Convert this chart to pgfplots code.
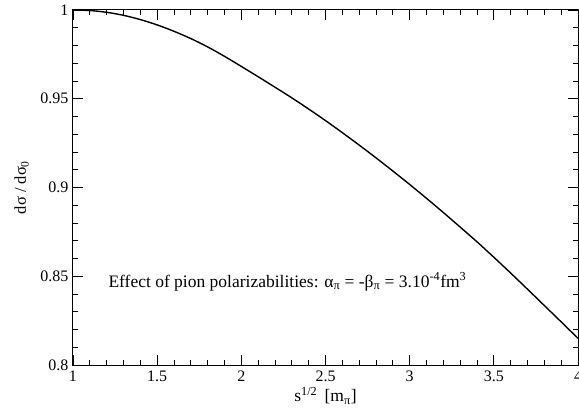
\documentclass[border=0pt]{standalone}
\usepackage{fontspec}
\setmainfont{Liberation Serif}
\usepackage{pgfplots}
\pgfplotsset{compat=1.18}
\pgfplotstableread{
x y
1.0 1.0000
1.1 0.9997
1.2 0.9987
1.3 0.9970
1.4 0.9946
1.5 0.9916
1.6 0.9880
1.7 0.9839
1.8 0.9792
1.9 0.9739
2.0 0.9682
2.1 0.9624
2.2 0.9565
2.3 0.9505
2.4 0.9442
2.5 0.9377
2.6 0.9309
2.7 0.9239
2.8 0.9167
2.9 0.9093
3.0 0.9017
3.1 0.8939
3.2 0.8859
3.3 0.8777
3.4 0.8694
3.5 0.8607
3.6 0.8518
3.7 0.8427
3.8 0.8335
3.9 0.8243
4.0 0.8150
}\curve
\begin{document}
\begin{tikzpicture}
\begin{axis}[
  scale only axis, width=505bp, height=355bp,
  xmin=1, xmax=4, ymin=0.8, ymax=1,
  xtick={1,1.5,2,2.5,3,3.5,4},
  ytick={0.8,0.85,0.9,0.95,1},
  minor x tick num=4, minor y tick num=4,
  tick align=inside,
  major tick length=10bp, minor tick length=5bp,
  tick style={black, line width=0.8bp},
  axis line style={line width=1bp},
  /pgf/number format/assume math mode=true,
  ticklabel style={font=\fontsize{16bp}{19bp}\selectfont},
  xticklabel style={yshift=-2bp},
  yticklabel style={xshift=-1bp},
  xlabel={s\textsuperscript{1/2}\, [m\textsubscript{π}]},
  ylabel={dσ / dσ\textsubscript{0}},
  xlabel style={at={(axis description cs:0.5,-0.1042)}, anchor=base, font=\fontsize{17.5bp}{20bp}\selectfont},
  ylabel style={at={(axis description cs:-0.0931,0.5)}, anchor=base, rotate=0, font=\fontsize{16.5bp}{19bp}\selectfont},
]
\addplot[black, line width=1.4bp, smooth, no marks] table[x=x, y=y] {\curve};
\node[anchor=base west, font=\fontsize{17.5bp}{20bp}\selectfont] at (axis cs:1.19,0.8439)
  {Effect of pion polarizabilities: α\textsubscript{π} = -β\textsubscript{π} = 3.10\textsuperscript{-4}fm\textsuperscript{3}};
\end{axis}
\pgfresetboundingbox
\path[use as bounding box] ([xshift=-73bp,yshift=-54bp]current axis.south west) rectangle ([xshift=1bp,yshift=10bp]current axis.north east);
\end{tikzpicture}
\end{document}
